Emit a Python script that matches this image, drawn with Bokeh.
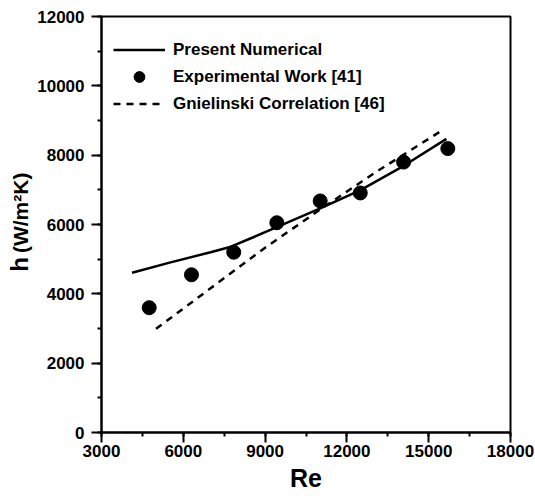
from bokeh.plotting import figure
from bokeh.models import (Range1d, SingleIntervalTicker, FixedTicker, Legend,
                          LegendItem, LinearAxis)
from bokeh.embed import file_html
from bokeh.resources import INLINE

# ---- data ----
num_re = [4120, 5500, 7000, 7750, 8500, 9450, 11000, 12500, 14100, 15650]
num_h = [4610, 4900, 5200, 5360, 5610, 5930, 6460, 6990, 7700, 8470]

exp_re = [4750, 6300, 7850, 9430, 11020, 12490, 14080, 15700]
exp_h = [3600, 4550, 5200, 6050, 6680, 6910, 7800, 8190]

gni_re = [5000, 7000, 9000, 11000, 13000, 15460]
gni_h = [2990, 4160, 5330, 6420, 7480, 8700]

x_ticks = [3000, 6000, 9000, 12000, 15000, 18000]
y_ticks = [0, 2000, 4000, 6000, 8000, 10000, 12000]

FONT = "Liberation Sans"
NBSP = "\u00a0"

p = figure(width=535, height=498, output_backend="svg", toolbar_location=None,
           x_range=Range1d(3000, 18000), y_range=Range1d(0, 12000),
           min_border_left=101, min_border_right=25, min_border_top=16,
           min_border_bottom=66)
p.grid.visible = False
p.outline_line_color = "black"
p.outline_line_width = 2
p.background_fill_color = "white"
p.border_fill_color = "white"

r_num = p.line(num_re, num_h, line_color="black", line_width=2.5)
r_exp = p.scatter(exp_re, exp_h, marker="circle", size=14, fill_color="black",
                  line_color="black")
r_gni = p.line(gni_re, gni_h, line_color="black", line_width=2.5, line_dash="7 6")

for ax, ticks in ((p.xaxis[0], x_ticks), (p.yaxis[0], y_ticks)):
    step = ticks[1] - ticks[0]
    ax.ticker = SingleIntervalTicker(interval=step, num_minor_ticks=2)
    ax.axis_line_width = 2
    ax.axis_line_color = "black"
    ax.major_tick_line_width = 2
    ax.minor_tick_line_width = 2
    ax.major_tick_line_color = "black"
    ax.minor_tick_line_color = "black"
    ax.major_tick_in = 0
    ax.major_tick_out = 10
    ax.minor_tick_in = 0
    ax.minor_tick_out = 4
    ax.major_label_text_font = FONT
    ax.major_label_text_font_style = "bold"
    ax.major_label_text_font_size = "17px"
    ax.major_label_text_color = "black"

p.xaxis.major_label_standoff = 2
p.yaxis.major_label_standoff = 7
p.xaxis.axis_label = "Re"
p.xaxis.axis_label_text_font = FONT
p.xaxis.axis_label_text_font_style = "bold"
p.xaxis.axis_label_text_font_size = "25px"
p.xaxis.axis_label_text_color = "black"
p.xaxis.axis_label_standoff = 4

# y label, units part (on the main axis), shifted upward with leading spaces
p.yaxis.axis_label = NBSP * 4 + "(W/m²K)"
p.yaxis.axis_label_text_font = FONT
p.yaxis.axis_label_text_font_style = "bold"
p.yaxis.axis_label_text_font_size = "21px"
p.yaxis.axis_label_text_color = "black"
p.yaxis.axis_label_standoff = 2

# y label, "h" part, on an extra label-only axis
ax_h = LinearAxis(ticker=FixedTicker(ticks=[]), axis_line_color=None,
                  major_tick_line_color=None, minor_tick_line_color=None,
                  major_tick_out=0, major_tick_in=0, minor_tick_out=0,
                  major_label_standoff=0, major_label_text_font_size="1px",
                  axis_label="h" + NBSP * 12, axis_label_text_font=FONT,
                  axis_label_text_font_style="bold",
                  axis_label_text_font_size="24px",
                  axis_label_text_color="black", axis_label_standoff=-26)
p.add_layout(ax_h, "left")

legend = Legend(items=[
    LegendItem(label="Present Numerical", renderers=[r_num]),
    LegendItem(label="Experimental Work [41]", renderers=[r_exp]),
    LegendItem(label="Gnielinski Correlation [46]", renderers=[r_gni]),
], location=(12, 315))
legend.border_line_color = None
legend.background_fill_alpha = 0
legend.padding = 0
legend.margin = 0
legend.spacing = 0
legend.glyph_width = 52
legend.glyph_height = 27
legend.label_height = 27
legend.label_standoff = 8
legend.label_text_font = FONT
legend.label_text_font_style = "bold"
legend.label_text_font_size = "17px"
legend.label_text_color = "black"
p.add_layout(legend)

open("out.html", "w").write(file_html(p, INLINE))
